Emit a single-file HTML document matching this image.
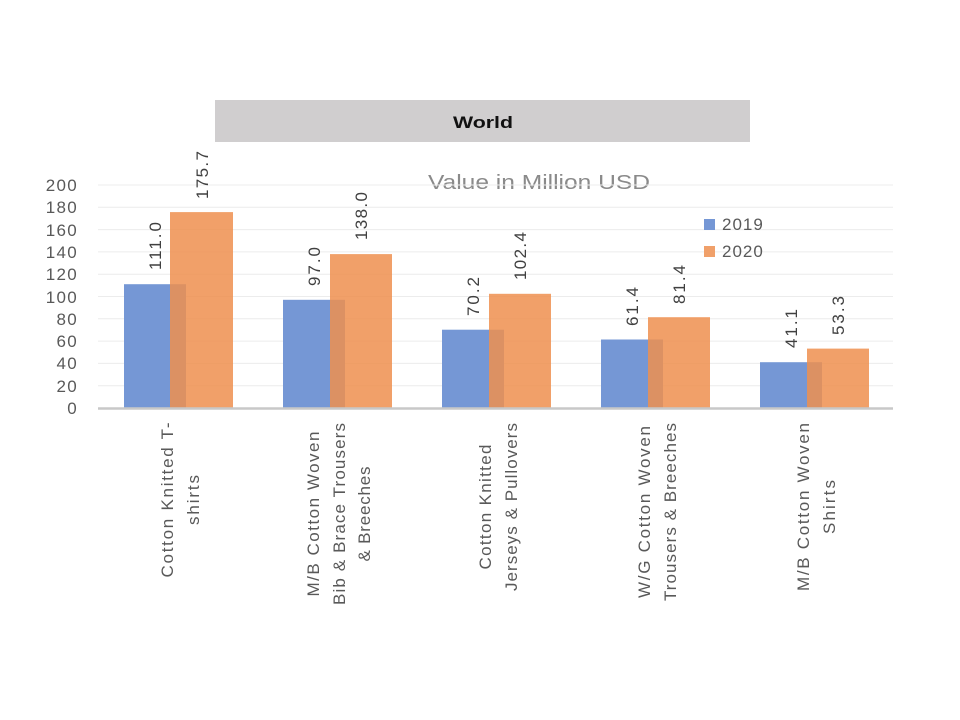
<!DOCTYPE html>
<html><head><meta charset="utf-8"><style>body{margin:0;background:#fff}svg{display:block}</style></head>
<body>
<svg width="960" height="720" xmlns="http://www.w3.org/2000/svg" font-family="Liberation Sans, sans-serif">
<rect width="960" height="720" fill="#fff"/>
<rect x="215" y="100" width="535" height="42" fill="#d0cecf"/>
<text x="483" y="128" font-size="17" font-weight="bold" text-anchor="middle" fill="#111" textLength="60" lengthAdjust="spacingAndGlyphs">World</text>
<text x="428" y="189" font-size="20" fill="#8a8a8a" textLength="222" lengthAdjust="spacingAndGlyphs">Value in Million USD</text>
<g stroke="#ececec" stroke-width="1">
<line x1="98" x2="893" y1="185" y2="185"/><line x1="98" x2="893" y1="207.3" y2="207.3"/>
<line x1="98" x2="893" y1="229.6" y2="229.6"/><line x1="98" x2="893" y1="251.9" y2="251.9"/>
<line x1="98" x2="893" y1="274.2" y2="274.2"/><line x1="98" x2="893" y1="296.5" y2="296.5"/>
<line x1="98" x2="893" y1="318.8" y2="318.8"/><line x1="98" x2="893" y1="341.1" y2="341.1"/>
<line x1="98" x2="893" y1="363.4" y2="363.4"/><line x1="98" x2="893" y1="385.7" y2="385.7"/>
</g>
<g font-size="17" fill="#595959" text-anchor="end" letter-spacing="1.3">
<text x="78" y="191">200</text><text x="78" y="213">180</text><text x="78" y="236">160</text>
<text x="78" y="258">140</text><text x="78" y="280">120</text><text x="78" y="303">100</text>
<text x="78" y="325">80</text><text x="78" y="347">60</text><text x="78" y="369">40</text>
<text x="78" y="392">20</text><text x="78" y="414">0</text>
</g>
<g>
<rect x="124" y="284.2" width="62" height="123.8" fill="#7597d5"/>
<rect x="283" y="299.8" width="62" height="108.2" fill="#7597d5"/>
<rect x="442" y="329.7" width="62" height="78.3" fill="#7597d5"/>
<rect x="601" y="339.5" width="62" height="68.5" fill="#7597d5"/>
<rect x="760" y="362.2" width="62" height="45.8" fill="#7597d5"/>
<g fill="#ee8f4f" fill-opacity="0.85">
<rect x="170" y="212.1" width="63" height="195.9"/>
<rect x="330" y="254.1" width="62" height="153.9"/>
<rect x="489" y="293.8" width="62" height="114.2"/>
<rect x="648" y="317.2" width="62" height="90.8"/>
<rect x="807" y="348.6" width="62" height="59.4"/>
</g>
</g>
<line x1="98" x2="893" y1="408.5" y2="408.5" stroke="#c8c8c8" stroke-width="2.5"/>
<g font-size="17" fill="#404040" lengthAdjust="spacingAndGlyphs">
<text transform="translate(161,270) rotate(-90)" textLength="48">111.0</text>
<text transform="translate(208,199) rotate(-90)" textLength="48">175.7</text>
<text transform="translate(320,286) rotate(-90)" textLength="39">97.0</text>
<text transform="translate(367,240) rotate(-90)" textLength="48">138.0</text>
<text transform="translate(479,316) rotate(-90)" textLength="39">70.2</text>
<text transform="translate(526,280) rotate(-90)" textLength="48">102.4</text>
<text transform="translate(638,326) rotate(-90)" textLength="39">61.4</text>
<text transform="translate(685,304) rotate(-90)" textLength="39">81.4</text>
<text transform="translate(797,348) rotate(-90)" textLength="39">41.1</text>
<text transform="translate(844,335) rotate(-90)" textLength="39">53.3</text>
</g>
<rect x="704" y="219" width="11" height="11" fill="#7597d5"/>
<rect x="704" y="246" width="11" height="11" fill="#f0a06a"/>
<g font-size="17" fill="#595959" letter-spacing="1">
<text x="722" y="230">2019</text><text x="722" y="257">2020</text>
</g>
<g font-size="17" fill="#595959" text-anchor="middle" lengthAdjust="spacingAndGlyphs">
<text transform="translate(173,500) rotate(-90)" textLength="155">Cotton Knitted  T-</text>
<text transform="translate(199,500) rotate(-90)" textLength="50">shirts</text>
<text transform="translate(319,514) rotate(-90)" textLength="165">M/B Cotton Woven</text>
<text transform="translate(345,514) rotate(-90)" textLength="182">Bib &amp; Brace Trousers</text>
<text transform="translate(370,514) rotate(-90)" textLength="95">&amp; Breeches</text>
<text transform="translate(491,507) rotate(-90)" textLength="125">Cotton Knitted</text>
<text transform="translate(517,507) rotate(-90)" textLength="168">Jerseys &amp; Pullovers</text>
<text transform="translate(650,512) rotate(-90)" textLength="172">W/G Cotton Woven</text>
<text transform="translate(676,512) rotate(-90)" textLength="178">Trousers  &amp; Breeches</text>
<text transform="translate(809,507) rotate(-90)" textLength="168">M/B Cotton Woven</text>
<text transform="translate(835,507) rotate(-90)" textLength="54">Shirts</text>
</g>
</svg>
</body></html>
